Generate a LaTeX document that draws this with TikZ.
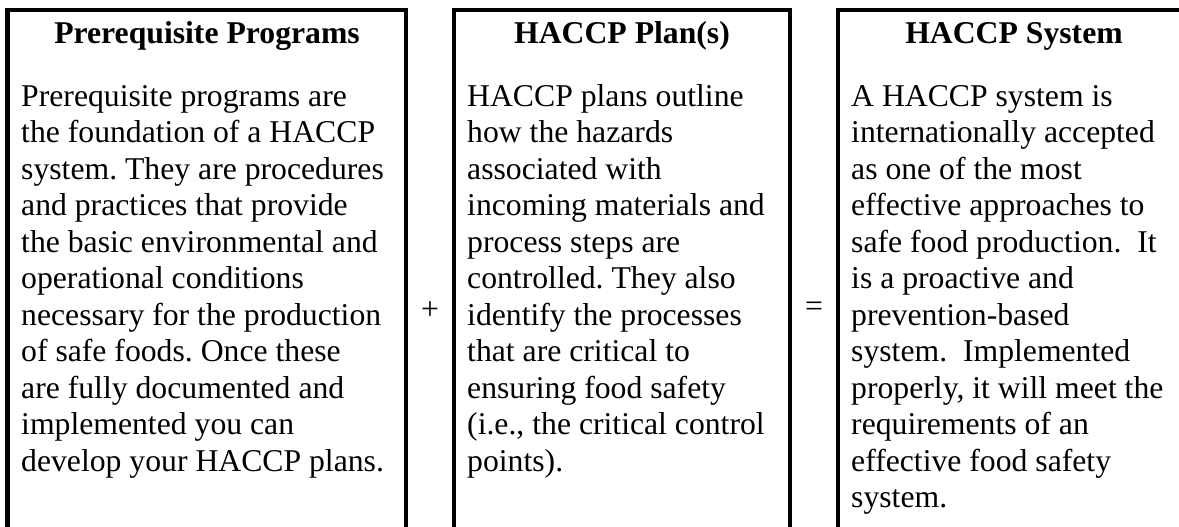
\documentclass[tikz,border=0pt]{standalone}
\usepackage{fontspec}
\setmainfont{Liberation Serif}
\usepackage{tikz}
\usetikzlibrary{positioning}
\frenchspacing

\begin{document}
\begin{tikzpicture}[x=1pt, y=-1pt,
		boxline/.style={line width=4.5pt, line cap=rect},
		head/.style={font=\fontsize{31.7}{36.5}\selectfont\bfseries, inner sep=0pt, anchor=base},
		body/.style={font=\fontsize{31.7}{36.5}\selectfont, align=left, inner sep=0pt, anchor=base west},
		sign/.style={font=\fontsize{31.7}{36.5}\selectfont, inner sep=0pt}]
					\useasboundingbox (0,0) rectangle (1179,527);
					\clip (0,0) rectangle (1179,527);
					
					% Boxes, open at the bottom
					\draw[boxline] (7.5,540) -- (7.5,10) -- (406,10) -- (406,540);
					\draw[boxline] (454,540) -- (454,10) -- (790,10) -- (790,540);
					\draw[boxline] (838,540) -- (838,10) -- (1190,10) -- (1190,540);
					
					% Headings
					\node[head] (prereqhead) at (207,44) {Prerequisite Programs};
					\node[head] (planhead) at (622,44) {HACCP Plan(s)};
					\node[head] (systemhead) at (1014,44) {HACCP System};
					
					% Texts (placed at the baseline of their last line)
					\node[body] (prereqtext) at (21,471) {Prerequisite programs are\\
						the foundation of a HACCP\\
						system. They are procedures\\
						and practices that provide\\
						the basic environmental and\\
						operational conditions\\
						necessary for the production\\
						of safe foods. Once these\\
						are fully documented and\\
						implemented you can\\
						develop your HACCP plans.};
					\node[body] (plantext) at (467,471) {HACCP plans outline\\
						how the hazards\\
						associated with\\
						incoming materials and\\
						process steps are\\
						controlled. They also\\
						identify the processes\\
						that are critical to\\
						ensuring food safety\\
						(i.e., the critical control\\
						points).};
					\node[body] (systemtext) at (851,507.5) {A HACCP system is\\
						internationally accepted\\
						as one of the most\\
						effective approaches to\\
						safe food production.\ \ It\\
						is a proactive and\\
						prevention-based\\
						system.\ \ Implemented\\
						properly, it will meet the\\
						requirements of an\\
						effective food safety\\
						system.};
					
					% Signs
					\node[sign] (plus) at (430,311) {+};
					\node[sign] (equals) at (814,309) {=};
				\end{tikzpicture}
\end{document}
